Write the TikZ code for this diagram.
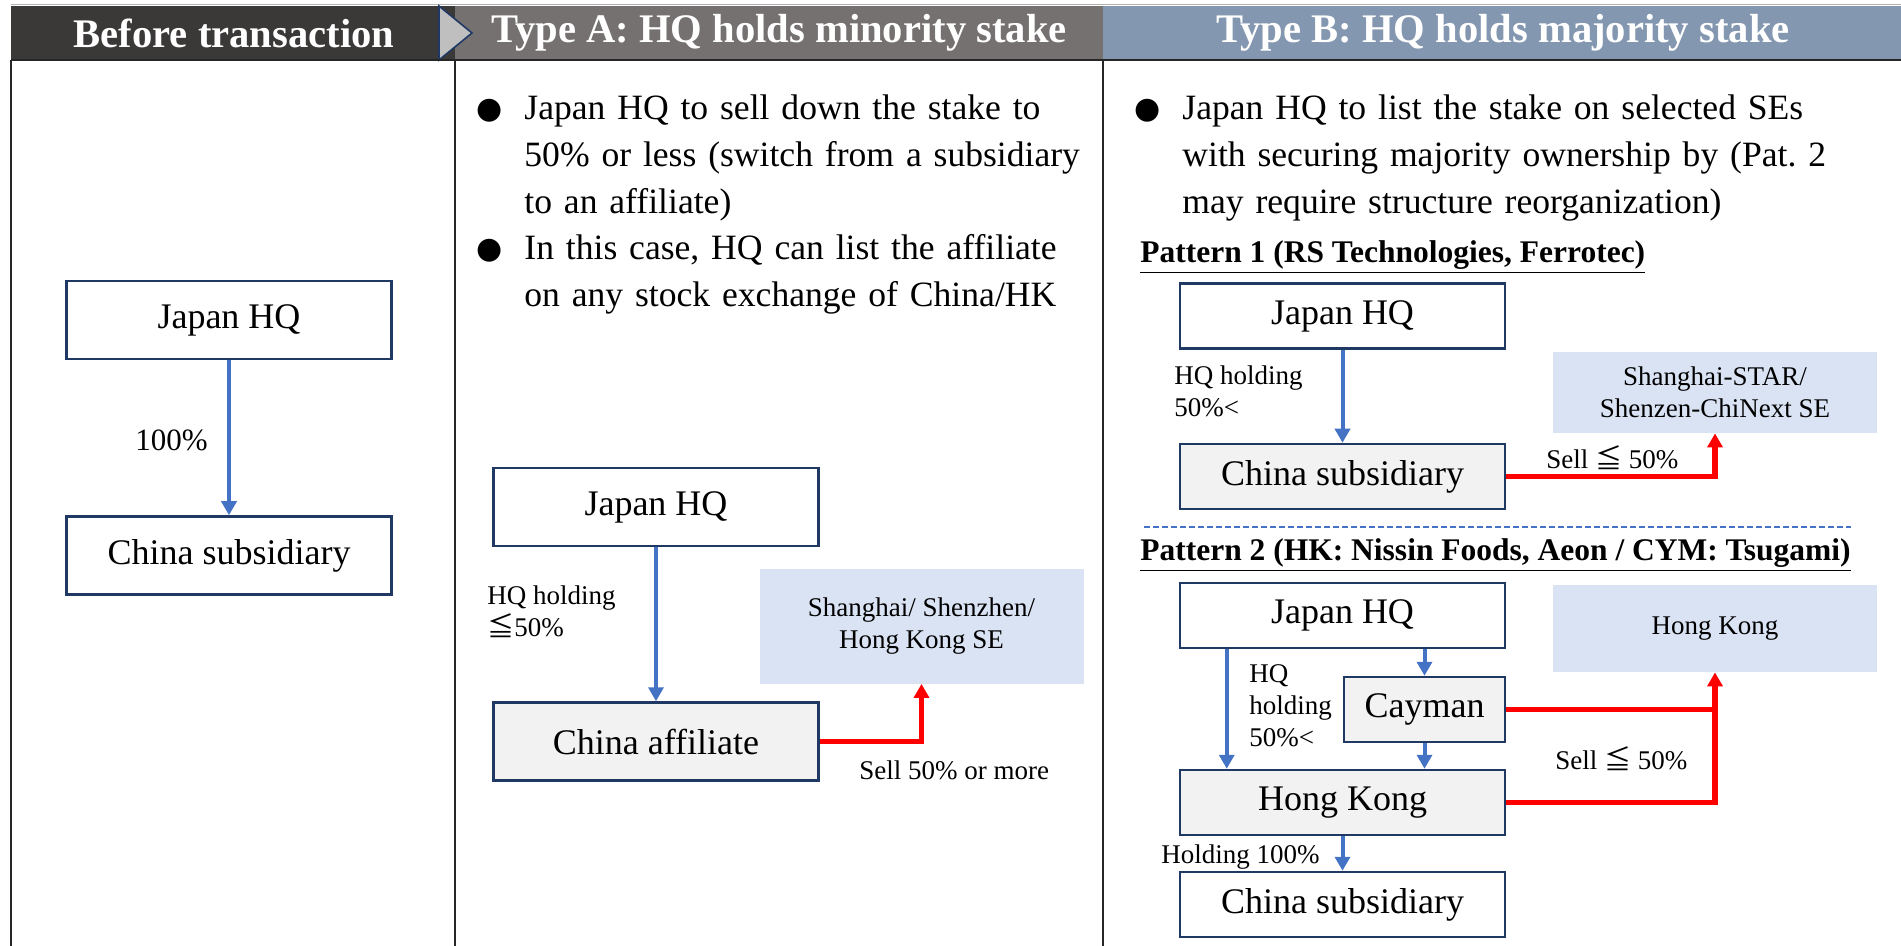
\documentclass[tikz,border=0pt]{standalone}
\usepackage{fontspec}
\setmainfont{Liberation Serif}
\newfontfamily\symfont{DejaVu Sans}
\newfontfamily\cjkfont{Noto Sans CJK JP}
\usetikzlibrary{arrows.meta}

\definecolor{hdrdark}{HTML}{3B3838}
\definecolor{hdrmid}{HTML}{767171}
\definecolor{hdrblue}{HTML}{8497B0}
\definecolor{chevron}{HTML}{BFBFBF}
\definecolor{boxline}{HTML}{1F3864}
\definecolor{boxgray}{HTML}{F2F2F2}
\definecolor{seblue}{HTML}{DAE3F3}
\definecolor{ownblue}{HTML}{4472C4}
\definecolor{sellred}{HTML}{FF0000}
\definecolor{framegray}{HTML}{262626}

\frenchspacing
\hyphenpenalty=10000
\newcommand{\bulletglyph}{\raisebox{0.5pt}{\symfont\fontsize{15}{15}\selectfont ●}}
\newcommand{\bitem}[1]{\par\hangindent=24pt\hangafter=1\noindent\makebox[24pt][l]{\bulletglyph}#1\par}
\newcommand{\jleq}{{\cjkfont ≦}}

\begin{document}
\begin{tikzpicture}[%
  x = 0.5pt, y = -0.5pt,
  box/.style = {draw = boxline, line width = 1.25pt, fill = white, inner sep = 0pt,
    minimum width = 162.5pt, minimum height = 32.5pt, font = \fontsize{18}{21}\selectfont},
  tallbox/.style = {box, minimum height = 39pt},
  shaded/.style = {fill = boxgray},
  exchange/.style = {fill = seblue, inner sep = 0pt, minimum width = 162pt, align = center,
    font = \fontsize{13.5}{16}\selectfont},
  hdr/.style = {text = white, font = \fontsize{20.3}{24}\selectfont\bfseries},
  lbl/.style = {anchor = west, align = left, inner sep = 0pt, font = \fontsize{13.5}{16}\selectfont},
  pattern/.style = {anchor = west, inner sep = 0pt, font = \fontsize{15.75}{18}\selectfont\bfseries},
  bullets/.style = {anchor = north west, inner sep = 0pt, align = left,
    font = \fontsize{17.8}{23.3}\selectfont},
  frame/.style = {draw = framegray, line width = 1.3pt},
  own/.style = {draw = ownblue, line width = 2pt, -{Triangle[length = 7pt, width = 7.5pt]}},
  sell/.style = {draw = sellred, line width = 2.6pt, -{Triangle[length = 7pt, width = 7.5pt]}},
  sellline/.style = {draw = sellred, line width = 2.6pt}]
  \useasboundingbox (0, 0) rectangle (1901, 946);

  % headers
  \draw[gray!60, line width = 0.5pt] (11, 5) -- (1901, 5);
  \fill[hdrdark] (11, 6) rectangle (455, 60);
  \fill[hdrmid] (455, 6) rectangle (1103, 60);
  \fill[hdrblue] (1103, 6) rectangle (1901, 60);
  \draw[fill = chevron, draw = boxline, line width = 0.8pt] (439, 6) -- (472, 33) -- (439, 60) -- cycle;
  \node[hdr] (hbefore) at (234, 33) {Before transaction};
  \node[hdr] (htypea) at (779, 33) {Type A: HQ holds minority stake};
  \node[hdr] (htypeb) at (1503, 33) {Type B: HQ holds majority stake};

  \draw[frame] (11, 60) -- (1901, 60);
  \draw[frame] (11, 60) -- (11, 946);
  \draw[frame] (455, 60) -- (455, 946);
  \draw[frame] (1103, 60) -- (1103, 946);

  % before transaction
  \node[tallbox] (jhq0) at (229, 320) {Japan HQ};
  \node[tallbox] (cs0) at (229, 555.5) {China subsidiary};
  \draw[own] (jhq0) -- (cs0);
  \node[lbl, font = \fontsize{15.5}{18}\selectfont] (pct0) at (135, 440) {100\%};

  % type A
  \node[bullets, text width = 340pt] (txta) at (476, 73) {%
    \bitem{Japan HQ to sell down the stake to\newline 50\% or less (switch from a subsidiary\newline to an affiliate)}%
    \bitem{In this case, HQ can list the affiliate\newline on any stock exchange of China/HK}};
  \node[tallbox] (jhqa) at (656, 507) {Japan HQ};
  \node[tallbox, shaded] (affa) at (656, 741.5) {China affiliate};
  \node[exchange, minimum height = 57.5pt] (sea) at (921.5, 626) {Shanghai/ Shenzhen/\\Hong Kong SE};
  \draw[own] (jhqa) -- (affa);
  \draw[sell] (affa.east) -| (sea.south);
  \node[lbl] (holda) at (487, 612) {HQ holding\\\jleq50\%};
  \node[lbl] (sella) at (859, 770) {Sell 50\% or more};

  % type B
  \node[bullets, text width = 370pt] (txtb) at (1134, 73) {%
    \bitem{Japan HQ to list the stake on selected SEs\newline with securing majority ownership by (Pat. 2\newline may require structure reorganization)}};

  % pattern 1
  \node[pattern] (pat1) at (1140, 257) {\underline{Pattern 1 (RS Technologies, Ferrotec)}};
  \node[box] (jhq1) at (1342.5, 316) {Japan HQ};
  \node[box, shaded] (cs1) at (1342.5, 476.5) {China subsidiary};
  \node[exchange, minimum height = 40.5pt] (se1) at (1715, 392.5) {Shanghai-STAR/\\Shenzen-ChiNext SE};
  \draw[own] (jhq1) -- (cs1);
  \draw[sell] (cs1.east) -| (se1.south);
  \node[lbl] (hold1) at (1174, 391) {HQ holding\\50\%<};
  \node[lbl] (sell1) at (1546, 458) {Sell \jleq{} 50\%};

  \draw[ownblue, line width = 1pt, dash pattern = on 3pt off 1.5pt] (1144, 527) -- (1851, 527);

  % pattern 2
  \node[pattern] (pat2) at (1140, 555) {\underline{Pattern 2 (HK: Nissin Foods, Aeon / CYM: Tsugami)}};
  \node[box] (jhq2) at (1342.5, 615.5) {Japan HQ};
  \node[box, shaded, minimum width = 80.5pt] (cay) at (1424.5, 709.5) {Cayman};
  \node[box, shaded] (hk2) at (1342.5, 802.5) {Hong Kong};
  \node[box] (cs2) at (1342.5, 904.5) {China subsidiary};
  \node[exchange, minimum height = 43.5pt] (se2) at (1715, 628.5) {Hong Kong};
  \draw[own] ([xshift = 24pt]jhq2.south west) -- ([xshift = 24pt]hk2.north west);
  \draw[own] (cay.north |- jhq2.south) -- (cay);
  \draw[own] (cay) -- (cay.south |- hk2.north);
  \draw[own] (hk2) -- (cs2);
  \draw[sellline] (cay.east) -- (cay.east -| se2.south);
  \draw[sell] (hk2.east) -| (se2.south);
  \node[lbl] (hold2) at (1249, 706) {HQ\\holding\\50\%<};
  \node[lbl] (hold3) at (1161, 857) {Holding 100\%};
  \node[lbl] (sell2) at (1555, 759) {Sell \jleq{} 50\%};
\end{tikzpicture}
\end{document}
